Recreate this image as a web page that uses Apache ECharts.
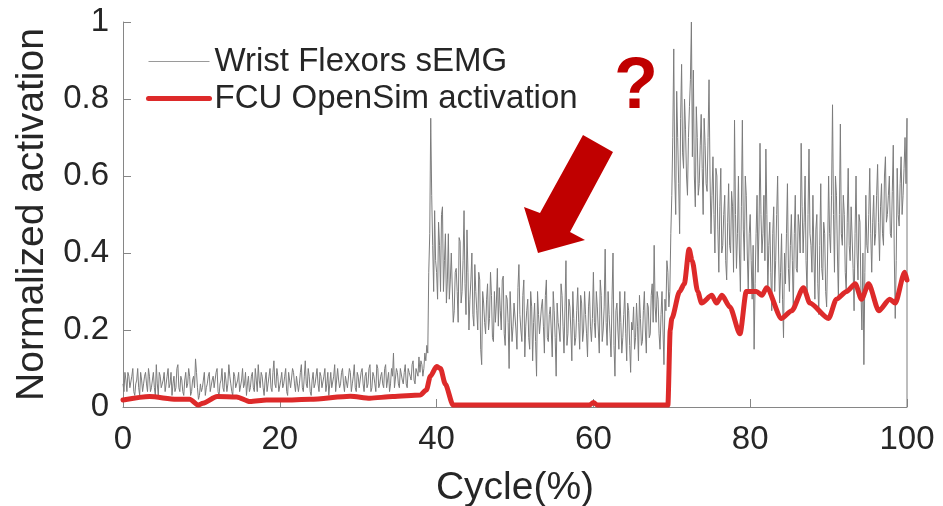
<!DOCTYPE html>
<html><head><meta charset="utf-8">
<script src="https://cdn.jsdelivr.net/npm/echarts@6/dist/echarts.min.js"></script>
<style>html,body{margin:0;padding:0;background:#fff}#c{width:943px;height:506px}</style>
</head><body><div id="c"></div>
<script>
// sEMG samples on the 0.25 % grid (x = i*0.25, 0..100)
const semgStep = 0.25;
const semg = [
0.06,0.09,0.04,0.08,0.05,0.1,0.03,0.07,0.05,0.09,0.04,0.08,0.06,0.1,0.04,0.07,0.05,0.11,0.03,0.08,
0.05,0.09,0.04,0.1,0.06,0.03,0.08,0.05,0.11,0.04,0.07,0.03,0.09,0.06,0.08,0.04,0.08,0.125,0.05,0.03,
0.04,0.07,0.03,0.06,0.09,0.04,0.08,0.05,0.1,0.03,0.07,0.05,0.09,0.04,0.11,0.06,0.03,0.08,0.05,0.09,
0.04,0.1,0.06,0.03,0.08,0.05,0.09,0.04,0.07,0.11,0.05,0.08,0.03,0.09,0.06,0.1,0.04,0.12,0.05,0.08,
0.04,0.09,0.06,0.1,0.03,0.07,0.05,0.09,0.04,0.08,0.06,0.11,0.04,0.12,0.05,0.08,0.03,0.09,0.06,0.1,
0.04,0.08,0.05,0.1,0.06,0.03,0.09,0.05,0.11,0.04,0.07,0.06,0.1,0.04,0.08,0.05,0.09,0.06,0.11,0.04,
0.08,0.05,0.1,0.04,0.09,0.06,0.11,0.05,0.08,0.04,0.1,0.06,0.09,0.05,0.11,0.07,0.04,0.1,0.14,0.05,
0.09,0.05,0.1,0.06,0.11,0.05,0.09,0.07,0.12,0.06,0.1,0.13,0.12,0.08,0.14,0.16,0.35,0.75,0.42,0.51,
0.35,0.48,0.3,0.52,0.38,0.27,0.45,0.33,0.4,0.25,0.36,0.22,0.43,0.3,0.51,0.24,0.35,0.28,0.4,0.21,
0.3,0.2,0.33,0.11,0.27,0.19,0.32,0.23,0.29,0.17,0.22,0.36,0.31,0.2,0.34,0.16,0.28,0.1,0.3,0.21,
0.27,0.15,0.37,0.2,0.29,0.13,0.25,0.18,0.3,0.12,0.27,0.08,0.24,0.19,0.28,0.14,0.33,0.17,0.26,0.13,
0.25,0.08,0.22,0.17,0.29,0.14,0.38,0.19,0.26,0.12,0.23,0.18,0.31,0.15,0.27,0.2,0.24,0.13,0.3,0.17,
0.35,0.18,0.26,0.14,0.29,0.2,0.41,0.16,0.24,0.13,0.4,0.08,0.27,0.15,0.22,0.18,0.3,0.12,0.25,0.09,
0.2,0.15,0.27,0.12,0.23,0.17,0.3,0.14,0.26,0.19,0.32,0.42,0.22,0.28,0.15,0.3,0.11,0.25,0.35,0.3,
0.55,0.93,0.5,0.7,0.45,0.89,0.62,0.72,0.55,0.78,1.0,0.875,0.52,0.7,0.58,0.76,0.5,0.68,0.56,0.85,
0.45,0.65,0.4,0.6,0.35,0.62,0.42,0.55,0.33,0.58,0.4,0.52,0.745,0.36,0.6,0.3,0.745,0.38,0.55,0.3,
0.5,0.28,0.15,0.45,0.35,0.685,0.4,0.55,0.67,0.3,0.48,0.25,0.52,0.38,0.6,0.27,0.45,0.18,0.32,0.58,
0.3,0.5,0.25,0.55,0.35,0.47,0.685,0.4,0.6,0.3,0.67,0.42,0.55,0.28,0.5,0.24,0.58,0.33,0.45,0.26,
0.6,0.4,0.785,0.35,0.55,0.28,0.735,0.42,0.5,0.3,0.62,0.38,0.52,0.25,0.6,0.33,0.48,0.2,0.11,0.55,
0.4,0.62,0.35,0.55,0.45,0.63,0.38,0.58,0.42,0.65,0.5,0.6,0.44,0.68,0.23,0.62,0.47,0.65,0.55,0.7,
0.75
];
// sEMG samples in between (x = 0.125 + i*0.25)
const semgMid = [
0.04,0.07,0.09,0.05,0.08,0.04,0.06,0.1,0.03,0.07,0.06,0.09,0.04,0.08,0.05,0.09,0.03,0.06,0.09,0.05,
0.07,0.04,0.08,0.05,0.09,0.06,0.04,0.1,0.05,0.08,0.04,0.07,0.05,0.1,0.03,0.07,0.05,0.09,0.02,0.06,
0.05,0.09,0.05,0.08,0.04,0.07,0.05,0.09,0.04,0.06,0.1,0.04,0.07,0.06,0.08,0.04,0.09,0.05,0.07,0.04,
0.07,0.05,0.09,0.06,0.04,0.08,0.05,0.1,0.04,0.07,0.09,0.05,0.07,0.04,0.08,0.05,0.09,0.06,0.1,0.04,
0.07,0.05,0.08,0.04,0.09,0.05,0.1,0.06,0.08,0.04,0.09,0.05,0.08,0.06,0.1,0.04,0.07,0.05,0.08,0.06,
0.09,0.05,0.08,0.04,0.09,0.06,0.05,0.08,0.04,0.1,0.05,0.09,0.06,0.08,0.05,0.1,0.04,0.08,0.05,0.09,
0.05,0.09,0.06,0.08,0.05,0.1,0.04,0.09,0.06,0.11,0.05,0.08,0.06,0.1,0.05,0.09,0.06,0.08,0.05,0.1,
0.06,0.1,0.07,0.09,0.06,0.1,0.08,0.11,0.07,0.1,0.08,0.09,0.11,0.1,0.12,0.14,0.45,0.55,0.3,0.38,
0.28,0.42,0.5,0.3,0.45,0.33,0.28,0.4,0.22,0.35,0.3,0.44,0.27,0.38,0.32,0.46,0.2,0.33,0.24,0.37,
0.25,0.35,0.15,0.3,0.22,0.28,0.2,0.35,0.18,0.3,0.27,0.21,0.25,0.33,0.19,0.29,0.22,0.3,0.17,0.27,
0.2,0.31,0.24,0.17,0.33,0.21,0.28,0.15,0.26,0.22,0.17,0.3,0.19,0.26,0.21,0.29,0.18,0.24,0.2,0.3,
0.18,0.27,0.2,0.32,0.21,0.26,0.16,0.28,0.2,0.3,0.16,0.25,0.22,0.29,0.17,0.3,0.19,0.26,0.21,0.23,
0.22,0.3,0.2,0.33,0.17,0.26,0.22,0.3,0.19,0.28,0.16,0.25,0.2,0.3,0.14,0.24,0.19,0.27,0.16,0.22,
0.26,0.18,0.21,0.29,0.16,0.25,0.2,0.27,0.18,0.29,0.22,0.26,0.3,0.19,0.24,0.2,0.28,0.38,0.26,0.45,
0.7,0.6,0.82,0.58,0.75,0.66,0.8,0.6,0.7,0.85,0.65,0.6,0.78,0.55,0.68,0.62,0.75,0.58,0.7,0.6,
0.55,0.5,0.62,0.46,0.52,0.4,0.5,0.38,0.48,0.42,0.56,0.35,0.5,0.45,0.4,0.52,0.46,0.6,0.4,0.45,
0.38,0.42,0.32,0.55,0.47,0.5,0.45,0.38,0.5,0.42,0.35,0.45,0.3,0.5,0.4,0.35,0.28,0.4,0.45,0.36,
0.42,0.38,0.45,0.36,0.5,0.4,0.52,0.48,0.38,0.5,0.45,0.35,0.4,0.46,0.32,0.42,0.36,0.48,0.3,0.4,
0.45,0.55,0.5,0.6,0.4,0.5,0.45,0.55,0.35,0.48,0.42,0.52,0.36,0.45,0.4,0.5,0.3,0.4,0.35,0.42,
0.5,0.45,0.48,0.42,0.55,0.48,0.52,0.45,0.6,0.48,0.55,0.45,0.56,0.4,0.38,0.5,0.58,0.5,0.62,0.58
];
const semgEndValue = 0; // trace drops to 0 at 100 %

// FCU OpenSim activation
const actX = [0,3.4,6.8,8.5,9.6,10.2,12,14.5,16.2,18.3,20.4,23.9,29,31.5,34.4,37.9,38.7,39.2,40.0,40.5,41.1,42.1,59.5,60,60.5,69.5,69.8,70,71,71.6,72.2,72.6,73.3,73.8,75.1,75.7,76.4,77.4,78.7,79.5,80.8,81.5,82.1,84,85.3,86.8,87.6,90,91,92.3,93.4,94.2,95.1,96.4,97.8,98.5,99.7,100];
const actY = [0.018,0.027,0.02,0.02,0.005,0.01,0.027,0.026,0.014,0.018,0.018,0.02,0.028,0.023,0.027,0.031,0.044,0.08,0.105,0.1,0.06,0.005,0.005,0.012,0.005,0.005,0.2,0.23,0.3,0.32,0.41,0.38,0.3,0.27,0.29,0.27,0.29,0.26,0.19,0.30,0.30,0.29,0.31,0.23,0.25,0.31,0.27,0.23,0.28,0.30,0.32,0.28,0.32,0.25,0.28,0.27,0.35,0.33];

const names = ['Wrist Flexors sEMG','FCU OpenSim activation'];
const GRAY = '#7c7c7c', LEGEND_GRAY = '#9a9a9a', RED = '#dd2a2a';

const semgData = [];
for (let i = 0; i < semgMid.length; i++) {
  semgData.push([i*semgStep, semg[i]]);
  semgData.push([i*semgStep + semgStep/2, semgMid[i]]);
}
semgData.push([100, semg[semg.length-1]]);
semgData.push([100, semgEndValue]);
const actData = actX.map((x,i)=>[x, actY[i]]);

const FONT = "'Liberation Sans', Arial, Helvetica, sans-serif";
const chart = echarts.init(document.getElementById('c'));
chart.setOption({
  animation:false,
  backgroundColor:'#fff',
  grid:{left:123,right:36,top:22,bottom:99,containLabel:false,outerBoundsMode:'none'},
  legend:{
    orient:'vertical', left:146, top:45, padding:0, itemWidth:61, itemHeight:12, itemGap:4,
    itemStyle:{opacity:0},
    textStyle:{fontFamily:FONT,fontSize:33,lineHeight:33,color:'#262626'},
    data:[
      {name:names[0], lineStyle:{width:1.2,color:LEGEND_GRAY}},
      {name:names[1], lineStyle:{width:5,color:RED}}
    ]
  },
  xAxis:{
    type:'value', min:0, max:100, interval:20,
    axisLine:{lineStyle:{color:'#868686',width:1}},
    axisTick:{inside:true,length:8,lineStyle:{color:'#868686'}},
    splitLine:{show:false},
    axisLabel:{fontFamily:FONT,fontSize:33,color:'#262626',margin:16},
    name:'Cycle(%)', nameLocation:'middle', nameGap:62,
    nameTextStyle:{fontFamily:FONT,fontSize:39,color:'#262626'}
  },
  yAxis:{
    type:'value', min:0, max:1, interval:0.2,
    axisLine:{show:true,lineStyle:{color:'#868686',width:1}},
    axisTick:{show:true,inside:true,length:8,lineStyle:{color:'#868686'}},
    splitLine:{show:false},
    axisLabel:{fontFamily:FONT,fontSize:33,color:'#262626',margin:14},
    name:'Normalized activation', nameLocation:'middle', nameGap:66,
    nameTextStyle:{fontFamily:FONT,fontSize:39,color:'#262626'}
  },
  series:[
    {name:names[0],type:'line',data:semgData,showSymbol:false,symbol:'none',
     lineStyle:{color:GRAY,width:1},itemStyle:{color:GRAY},z:2},
    {name:names[1],type:'line',data:actData,showSymbol:false,symbol:'none',
     smooth:0.25,smoothMonotone:'x',
     lineStyle:{color:RED,width:5,join:'round',cap:'round'},itemStyle:{color:RED},z:3}
  ],
  graphic:[
    {type:'polygon',shape:{points:[[583,135],[613,152],[570,232],[585,240],[538,253],[524,207],[540,213]]},
     style:{fill:'#c00000'},z:10},
    {type:'text',x:636,y:88,style:{text:'?',font:"bold 72px "+FONT,fill:'#c00000',align:'center',verticalAlign:'middle'},z:10}
  ]
});
</script></body></html>
